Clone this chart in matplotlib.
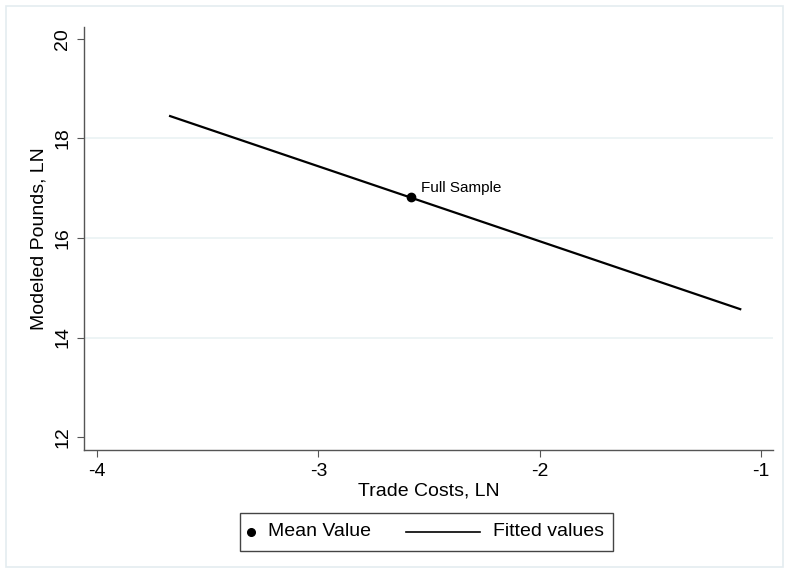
import matplotlib
matplotlib.use("Agg")
import matplotlib.pyplot as plt
from matplotlib.lines import Line2D
from matplotlib.patches import Rectangle

plt.rcParams['font.family'] = ['Liberation Sans', 'DejaVu Sans']

# fitted line end points and the sample mean
fit_x = [-3.67, -1.094]
fit_y = [18.45, 14.57]
mean_x = [-2.581]
mean_y = [16.82]
mean_label = "Full Sample"
legend_labels = ["Mean Value", "Fitted values"]

xticks = [-4, -3, -2, -1]
yticks = [12, 14, 16, 18, 20]

W, H = 789, 573
fig = plt.figure(figsize=(W / 100, H / 100), dpi=100)


def fx(px):
    return px / W


def fy(py):
    return 1 - py / H


# outer frame like stata
fig.patches.append(Rectangle((fx(6), fy(567)), 777 / W, 561 / H,
                             transform=fig.transFigure, fill=False,
                             edgecolor='#e4ecf0', lw=1.2))

ax = fig.add_axes([fx(84), fy(450), (773 - 84) / W, (450 - 27) / H])
ax.set_xlim(-4.059, -0.946)
ax.set_ylim(11.74, 20.24)

for yv in [14, 16, 18]:
    ax.axhline(yv, color='#eaf2f3', lw=1.2, zorder=0)

ax.plot(fit_x, fit_y, color='black', lw=1.6)
ax.plot(mean_x, mean_y, 'o', color='black', ms=6)
ax.annotate(mean_label, (mean_x[0], mean_y[0]), xytext=(7, 4),
            textcoords='offset points', fontsize=11, color='black')

for s in ['top', 'right']:
    ax.spines[s].set_visible(False)
for s in ['left', 'bottom']:
    ax.spines[s].set_color('#555555')
    ax.spines[s].set_linewidth(1.0)

ax.set_xticks(xticks)
ax.set_yticks(yticks)
ax.set_xticklabels([str(v) for v in xticks], fontsize=14)
ax.set_yticklabels([str(v) for v in yticks], fontsize=14, rotation=90, va='center')
ax.tick_params(direction='out', length=5, color='#555555', pad=4)

ax.set_xlabel("Trade Costs, LN", fontsize=14, labelpad=2)
ax.set_ylabel("Modeled Pounds, LN", fontsize=14, labelpad=5)

# legend box, drawn by hand so the marker sits tight to its label
fig.patches.append(Rectangle((fx(240), fy(551)), 373 / W, 38 / H,
                             transform=fig.transFigure, fill=False,
                             edgecolor='#444444', lw=1.0))
fig.add_artist(Line2D([fx(251)], [fy(532)], marker='o', color='black',
                      ls='none', ms=5.5, transform=fig.transFigure))
fig.text(fx(268), fy(532), legend_labels[0], fontsize=14, va='center')
fig.add_artist(Line2D([fx(406), fx(480)], [fy(532), fy(532)], color='black',
                      lw=1.2, transform=fig.transFigure))
fig.text(fx(493), fy(532), legend_labels[1], fontsize=14, va='center')

fig.savefig("out.png", dpi=100)
